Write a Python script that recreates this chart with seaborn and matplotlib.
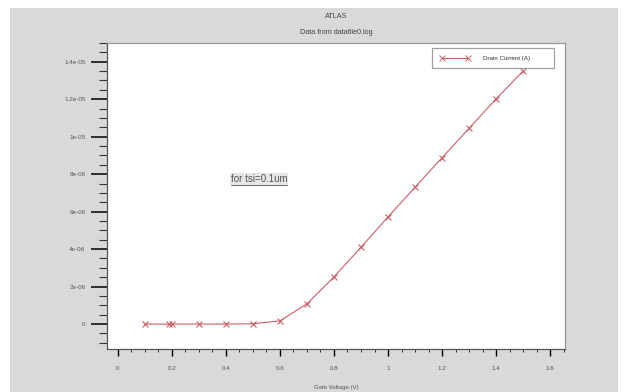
import numpy as np
import pandas as pd
import matplotlib
matplotlib.use('Agg')
import matplotlib.pyplot as plt
import seaborn as sns
from matplotlib.patches import Rectangle
from matplotlib.lines import Line2D
from matplotlib.ticker import MultipleLocator

# data
gate_voltage = [0.1, 0.19, 0.2, 0.3, 0.4, 0.5, 0.6, 0.7, 0.8, 0.9, 1.0, 1.1, 1.2, 1.3, 1.4, 1.5]
drain_current = [0, 0, 0, 0, 0, 0.02e-6, 0.17e-6, 1.08e-6, 2.52e-6, 4.1e-6, 5.72e-6,
                 7.3e-6, 8.88e-6, 10.45e-6, 12.02e-6, 13.5e-6]

x_ticks = [0, 0.2, 0.4, 0.6, 0.8, 1.0, 1.2, 1.4, 1.6]
x_labels = ['0', '0.2', '0.4', '0.6', '0.8', '1', '1.2', '1.4', '1.6']
y_ticks = [0, 2e-6, 4e-6, 6e-6, 8e-6, 1e-5, 1.2e-5, 1.4e-5]
y_labels = ['0', '2e-06', '4e-06', '6e-06', '8e-06', '1e-05', '1.2e-05', '1.4e-05']

df = pd.DataFrame({'Gate Voltage (V)': gate_voltage, 'Drain Current (A)': drain_current})

sns.set_style('white')
plt.rcParams['font.family'] = ['Liberation Sans', 'DejaVu Sans']

fig = plt.figure(figsize=(6.28, 3.92), dpi=100)
fig.patch.set_facecolor('white')
fig.patches.append(Rectangle((10 / 628, 0), 608 / 628, 384 / 392, transform=fig.transFigure,
                             facecolor='#d9d9d9', edgecolor='none', zorder=-10))

ax = fig.add_axes([107 / 628, 1 - 349 / 392, 458 / 628, 306 / 392])
ax.set_facecolor('white')

red = '#c96068'
sns.lineplot(data=df, x='Gate Voltage (V)', y='Drain Current (A)', ax=ax, color=red,
             marker='x', markersize=3.8, markeredgewidth=0.8, markeredgecolor=red,
             linewidth=0.8, estimator=None, sort=False, label='Drain Current (A)')

ax.set_xlim(-0.04, 1.655)
ax.set_ylim(-1.33e-6, 1.5e-5)

ax.set_xticks(x_ticks)
ax.set_xticklabels(x_labels)
ax.set_yticks(y_ticks)
ax.set_yticklabels(y_labels)
ax.xaxis.set_minor_locator(MultipleLocator(0.05))
ax.yaxis.set_minor_locator(MultipleLocator(5e-7))

ax.tick_params(axis='y', which='major', direction='out', length=11.5, width=1.1,
               color='black', labelsize=4.5, labelcolor='#555555', pad=4, left=True)
ax.tick_params(axis='y', which='minor', direction='out', length=5.5, width=0.8,
               color='#333333', left=True)
ax.tick_params(axis='x', which='major', direction='out', length=5, width=1.0,
               color='black', labelsize=4.5, labelcolor='#555555', pad=7, bottom=True)
ax.tick_params(axis='x', which='minor', direction='out', length=2.5, width=0.7,
               color='#333333', bottom=True)

for side in ['top', 'right']:
    ax.spines[side].set_color('#999999')
    ax.spines[side].set_linewidth(0.9)
for side in ['left', 'bottom']:
    ax.spines[side].set_color('#555555')
    ax.spines[side].set_linewidth(0.9)

ax.set_xlabel('')
ax.set_ylabel('')
fig.text(336 / 628, 1 - 388 / 392, 'Gate Voltage (V)', ha='center', va='center',
         fontsize=4.3, color='#555555')
fig.text(336 / 628, 1 - 17 / 392, 'ATLAS', ha='center', va='center',
         fontsize=5.2, color='#444444')
fig.text(336 / 628, 1 - 32 / 392, 'Data from datafile0.log', ha='center', va='center',
         fontsize=5.2, color='#444444')

note = ax.text(0.27, 0.555, 'for tsi=0.1um', transform=ax.transAxes,
               ha='left', va='center', fontsize=7, color='#555555',
               bbox=dict(facecolor='#e6e6e6', edgecolor='none', pad=0.5))

leg = ax.legend(loc='upper left', bbox_to_anchor=(0.71, 0.905, 0.266, 0.079),
                mode='expand', borderaxespad=0, fontsize=4.5, numpoints=2,
                handlelength=4.8, handletextpad=2.2, borderpad=1.2,
                frameon=True, fancybox=False)
leg.get_frame().set_edgecolor('#888888')
leg.get_frame().set_linewidth(0.9)
for h in leg.legend_handles:
    h.set_markersize(5)
    h.set_markeredgewidth(0.7)
for t in leg.get_texts():
    t.set_color('#333333')

# underline the note
fig.canvas.draw()
bb = note.get_window_extent().transformed(fig.transFigure.inverted())
fig.add_artist(Line2D([bb.x0, bb.x1], [bb.y0 - 0.002, bb.y0 - 0.002],
                      transform=fig.transFigure, color='#555555', linewidth=0.6))

fig.savefig('out.png', dpi=100, facecolor=fig.get_facecolor())
